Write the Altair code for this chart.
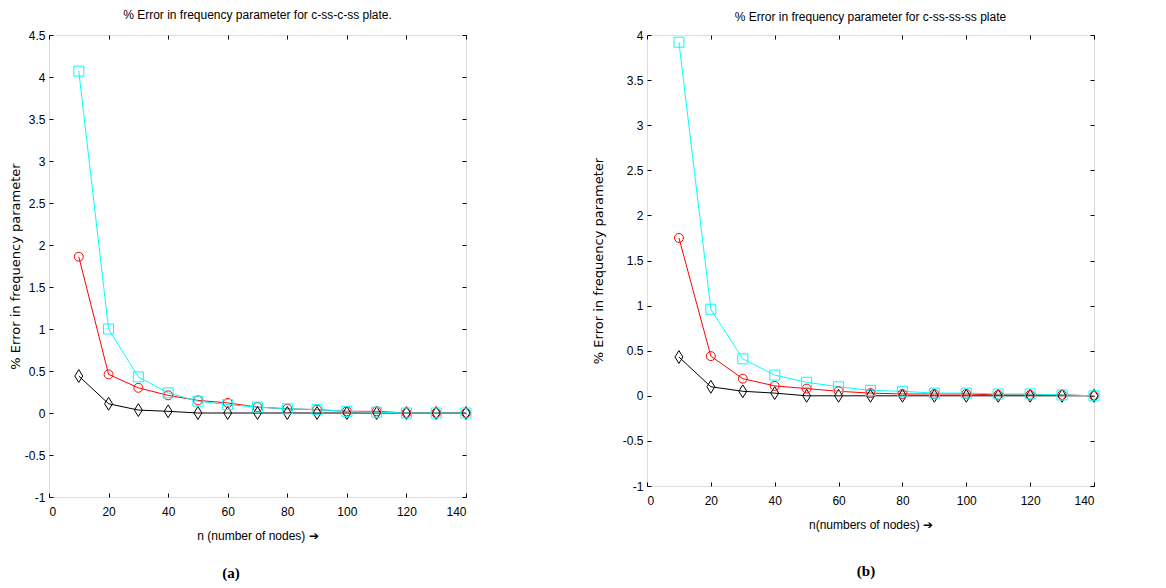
import altair as alt
import pandas as pd

n_nodes = [10, 20, 30, 40, 50, 60, 70, 80, 90, 100, 110, 120, 130, 140]

# panel (a): c-ss-c-ss plate
a_cyan = [4.07, 1.00, 0.43, 0.24, 0.14, 0.10, 0.07, 0.05, 0.04, 0.02, 0.01, 0.00, 0.00, 0.00]
a_red = [1.86, 0.46, 0.30, 0.21, 0.15, 0.12, 0.07, 0.05, 0.04, 0.02, 0.02, 0.00, 0.00, 0.00]
a_black = [0.44, 0.11, 0.035, 0.02, 0.00, 0.00, 0.00, 0.00, 0.00, 0.00, 0.00, 0.00, 0.00, 0.00]

# panel (b): c-ss-ss-ss plate
b_cyan = [3.92, 0.96, 0.41, 0.23, 0.15, 0.10, 0.06, 0.05, 0.03, 0.03, 0.02, 0.02, 0.01, 0.00]
b_red = [1.75, 0.44, 0.19, 0.11, 0.08, 0.05, 0.03, 0.02, 0.02, 0.02, 0.01, 0.01, 0.01, 0.00]
b_black = [0.43, 0.10, 0.05, 0.03, 0.00, 0.00, 0.00, 0.00, 0.00, 0.00, 0.00, 0.00, 0.00, 0.00]

x_ticks = [0, 20, 40, 60, 80, 100, 120, 140]
a_y_ticks = [-1, -0.5, 0, 0.5, 1, 1.5, 2, 2.5, 3, 3.5, 4, 4.5]
b_y_ticks = [-1, -0.5, 0, 0.5, 1, 1.5, 2, 2.5, 3, 3.5, 4]

series_names = ["black", "red", "cyan"]
series_colors = ["#000000", "#FF0000", "#00FFFF"]

TICK_FONT = "Liberation Sans Narrow, Liberation Sans, Arial"


def make_df(black, red, cyan):
    rows = []
    for name, vals in zip(series_names, [black, red, cyan]):
        for xv, yv in zip(n_nodes, vals):
            rows.append({"n": xv, "err": yv, "series": name})
    return pd.DataFrame(rows)


def panel(df, title, xtitle, cap, W, H, ydom, yticks, ytitle_pad, cap_x, cap_y, title_off):
    xs = alt.Scale(domain=[0, 140], nice=False, zero=False)
    ys = alt.Scale(domain=ydom, nice=False, zero=False)
    color = alt.Color("series:N", scale=alt.Scale(domain=series_names, range=series_colors), legend=None)
    base = alt.Chart(df)
    lab = "'' + datum.value"

    lines = base.mark_line(strokeWidth=1).encode(
        x=alt.X("n:Q", scale=xs, axis=alt.Axis(values=x_ticks, tickSize=0, domain=False, grid=False,
                                                labelExpr=lab, labelPadding=9, labelFont=TICK_FONT,
                                                labelFontSize=12, labelColor="black",
                                                title=xtitle, titleFont=TICK_FONT, titleFontSize=12,
                                                titleFontWeight="normal", titleColor="black",
                                                titlePadding=13)),
        y=alt.Y("err:Q", scale=ys, axis=alt.Axis(values=yticks, tickSize=0, domain=False, grid=False,
                                                  labelExpr=lab, labelPadding=4, labelFont=TICK_FONT,
                                                  labelFontSize=12, labelColor="black",
                                                  title="% Error in frequency parameter",
                                                  titleFont="DejaVu Sans, Liberation Sans", titleFontSize=13,
                                                  titleFontWeight="normal", titleColor="black",
                                                  titlePadding=ytitle_pad)),
        color=color,
        detail="series:N",
    )

    tick_common = dict(labels=False, domain=False, grid=False, title=None, tickSize=4,
                       tickColor="black", tickWidth=1)

    diamonds = base.transform_filter(alt.datum.series == "black").mark_point(
        shape="M0,-1L0.62,0L0,1L-0.62,0Z", filled=False, strokeWidth=1, opacity=1, size=165
    ).encode(
        x=alt.X("n:Q", scale=xs, axis=None),
        y=alt.Y("err:Q", scale=ys, axis=None),
        color=color,
    )
    circles = base.transform_filter(alt.datum.series == "red").mark_point(
        shape="circle", filled=False, strokeWidth=1, opacity=1, size=80
    ).encode(
        x=alt.X("n:Q", scale=xs, axis=alt.Axis(values=x_ticks, orient="bottom", offset=-H, **tick_common)),
        y=alt.Y("err:Q", scale=ys, axis=alt.Axis(values=yticks, orient="left", offset=-W, **tick_common)),
        color=color,
    )
    squares = base.transform_filter(alt.datum.series == "cyan").mark_point(
        shape="square", filled=False, strokeWidth=1, opacity=1, size=100
    ).encode(
        x=alt.X("n:Q", scale=xs, axis=alt.Axis(values=x_ticks, orient="top", offset=-H, **tick_common)),
        y=alt.Y("err:Q", scale=ys, axis=alt.Axis(values=yticks, orient="right", offset=-W, **tick_common)),
        color=color,
    )
    caption = alt.Chart(pd.DataFrame({"t": [cap]})).mark_text(
        font="Liberation Serif, Times New Roman", fontSize=15, fontWeight="bold", color="black"
    ).encode(x=alt.value(cap_x), y=alt.value(cap_y), text="t:N")

    return alt.layer(lines, diamonds, circles, squares, caption).resolve_axis(
        x="independent", y="independent"
    ).properties(
        width=W, height=H,
        title=alt.TitleParams(title, font=TICK_FONT, fontSize=12, fontWeight="normal",
                              color="black", offset=title_off),
    )


left = panel(make_df(a_black, a_red, a_cyan),
             "% Error in frequency parameter for c-ss-c-ss plate.",
             "n (number of nodes)  \u2794", "(a)", 417, 462, [-1, 4.5], a_y_ticks, 2, 182, 538, 7)
right = panel(make_df(b_black, b_red, b_cyan),
              "% Error in frequency parameter for c-ss-ss-ss plate",
              "n(numbers of nodes)  \u2794", "(b)", 447, 451, [-1, 4], b_y_ticks, 17, 219, 536, 5)

chart = alt.hconcat(left, right, spacing=117).properties(
    padding={"left": 0, "top": 0, "right": 0, "bottom": 0}
).configure_view(stroke="black", strokeWidth=1.2).configure(background="white")

chart.save("out.html", embed_options={"renderer": "svg", "actions": False})
